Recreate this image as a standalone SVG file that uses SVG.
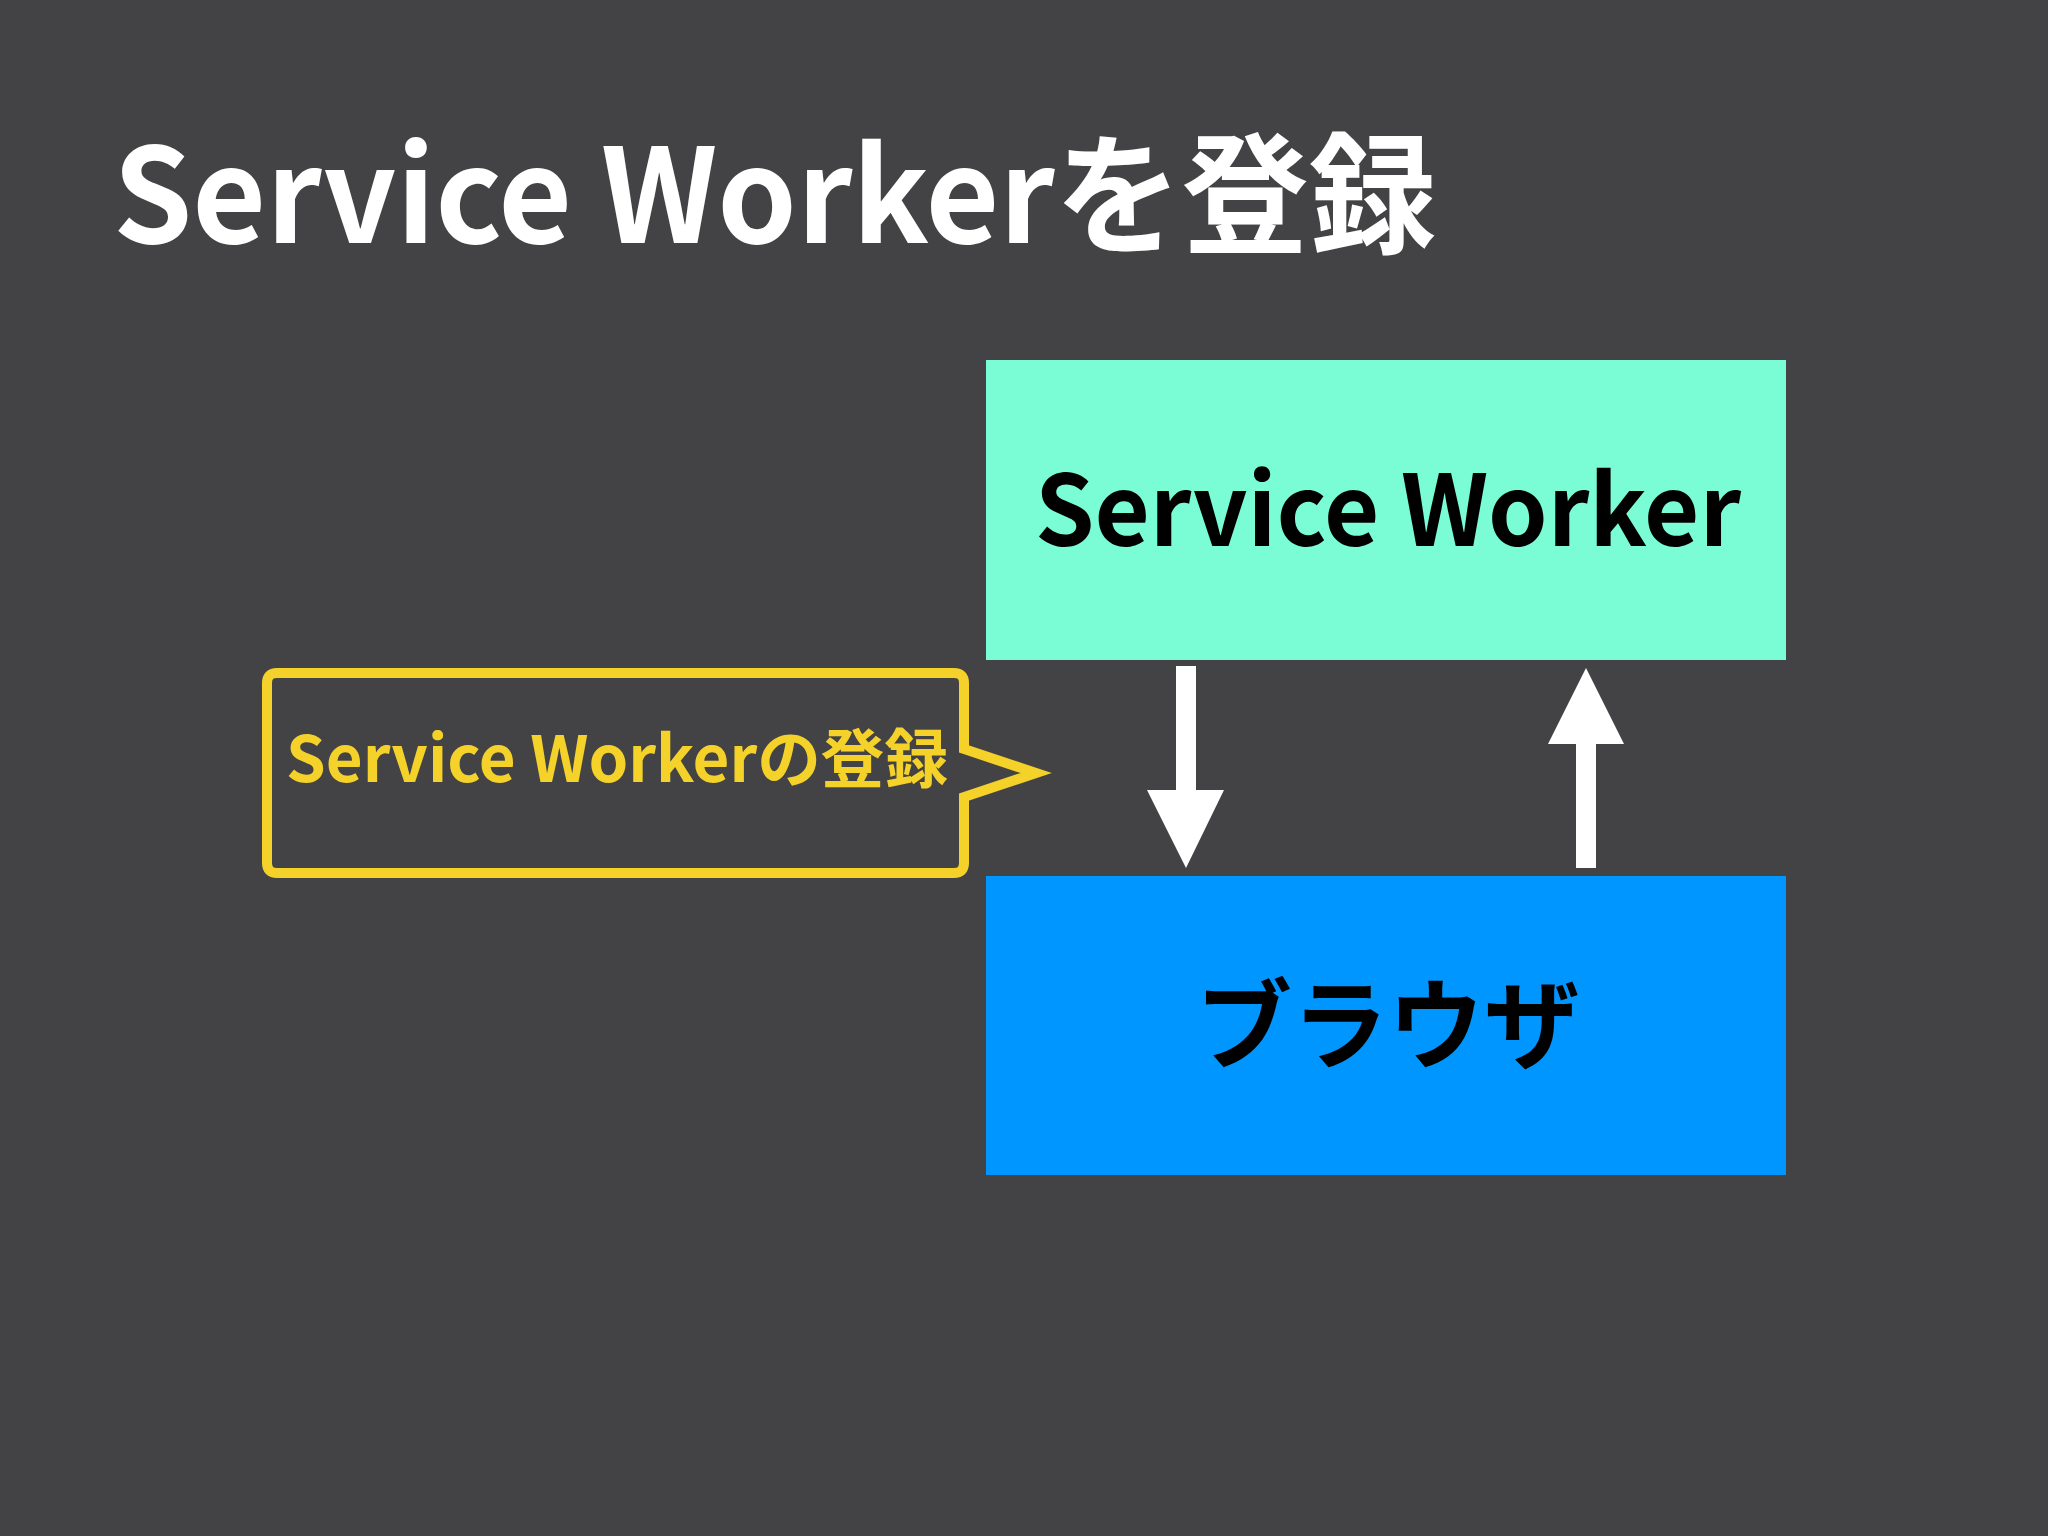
<svg xmlns="http://www.w3.org/2000/svg" width="2048" height="1536" viewBox="0 0 2048 1536">
<style>
text{font-family:"Noto Sans CJK JP","Noto Sans",sans-serif;font-weight:700}
.arrow{fill:#ffffff}
</style>
<rect x="0" y="0" width="2048" height="1536" fill="#434345"/>
<text x="113" y="243" font-size="131" fill="#ffffff" textLength="1323" lengthAdjust="spacingAndGlyphs">Service Workerを登録</text>
<g id="service-worker">
<rect x="986" y="360" width="800" height="300" fill="#7afdd5"/>
<text x="1035" y="546" font-size="98" fill="#000000" textLength="706" lengthAdjust="spacingAndGlyphs">Service Worker</text>
</g>
<g id="browser">
<rect x="986" y="876" width="800" height="299" fill="#0096ff"/>
<text x="1196" y="1061" font-size="98" fill="#000000" textLength="384" lengthAdjust="spacingAndGlyphs">ブラウザ</text>
</g>
<g id="callout">
<path d="M277 673 H954 Q964 673 964 683 V749 L1036 773 L964 797 V863 Q964 873 954 873 H277 Q267 873 267 863 V683 Q267 673 277 673 Z" fill="none" stroke="#f5d22a" stroke-width="10"/>
<text x="286" y="782" font-size="64" fill="#f5d22a" textLength="662" lengthAdjust="spacingAndGlyphs">Service Workerの登録</text>
</g>
<g id="connectors">
<path class="arrow" d="M1176 666 H1196 V790 H1224 L1186 868 L1147 790 H1176 Z"/>
<path class="arrow" d="M1586 668 L1624 744 H1596 V868 H1576 V744 H1548 Z"/>
</g>
</svg>
